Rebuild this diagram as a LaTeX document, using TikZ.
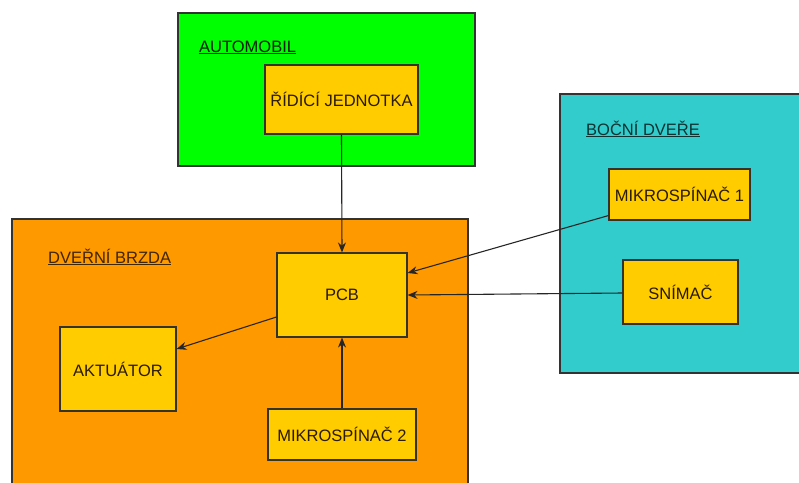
\documentclass[tikz,border=0pt]{standalone}
\usepackage{fontspec}
\setmainfont{Liberation Sans}
\usetikzlibrary{arrows.meta}
\definecolor{cgreen}{HTML}{00FF00}
\definecolor{corange}{HTML}{FF9900}
\definecolor{ccyan}{HTML}{33CCCC}
\definecolor{cyellow}{HTML}{FFCC00}
\definecolor{cborder}{HTML}{333333}
\definecolor{ctext}{HTML}{2A1A00}
\tikzset{
  container/.style={draw=cborder, line width=1.1pt},
  block/.style={draw=cborder, line width=1.1pt, fill=cyellow, inner sep=0pt,
    font=\fontsize{16.5}{19}\selectfont, text=ctext},
  grouplabel/.style={anchor=base west, inner sep=0pt, font=\fontsize{16.5}{19}\selectfont},
  conn/.style={draw=black!85, line width=1.1pt, -{Stealth[length=10pt,width=8pt]}}
}
\begin{document}
\begin{tikzpicture}[x=1pt,y=-1pt]
\useasboundingbox (0,0) rectangle (799,482);
% containers
\draw[container, fill=cgreen] (178,13) rectangle (475,166);
\draw[container, fill=corange] (12,219) rectangle (468,495);
\draw[container, fill=ccyan] (560,94) rectangle (810,373);
% group labels
\node[grouplabel, text=black!80!green!60!black] (lauto) at (199,52) {\underline{AUTOMOBIL}};
\node[grouplabel, text=black!75!corange] (ldb) at (48,263) {\underline{DVEŘNÍ BRZDA}};
\node[grouplabel, text=black!75!ccyan] (lbd) at (586,135) {\underline{BOČNÍ DVEŘE}};
% blocks
\node[block, minimum width=153pt, minimum height=69pt] (rj) at (341.5,99.5) {ŘÍDÍCÍ JEDNOTKA};
\node[block, minimum width=130pt, minimum height=84pt] (pcb) at (342,295) {PCB};
\node[block, minimum width=116pt, minimum height=84pt] (akt) at (118,369) {AKTUÁTOR};
\node[block, minimum width=148pt, minimum height=51pt] (m2) at (342,434.5) {MIKROSPÍNAČ 2};
\node[block, minimum width=141pt, minimum height=51pt] (m1) at (679.5,194.5) {MIKROSPÍNAČ 1};
\node[block, minimum width=115pt, minimum height=64pt] (sn) at (680.5,292) {SNÍMAČ};
% connectors
\draw[conn] (rj.south) -- (pcb.north);
\draw[conn] ([yshift=5pt]m1.south west) -- ([yshift=22pt]pcb.east);
\draw[conn] ([yshift=-1pt]sn.west) -- (pcb.east);
\draw[conn] ([yshift=-22pt]pcb.west) -- ([yshift=20pt]akt.east);
\draw[conn] (m2.north) -- (pcb.south);
\end{tikzpicture}
\end{document}
